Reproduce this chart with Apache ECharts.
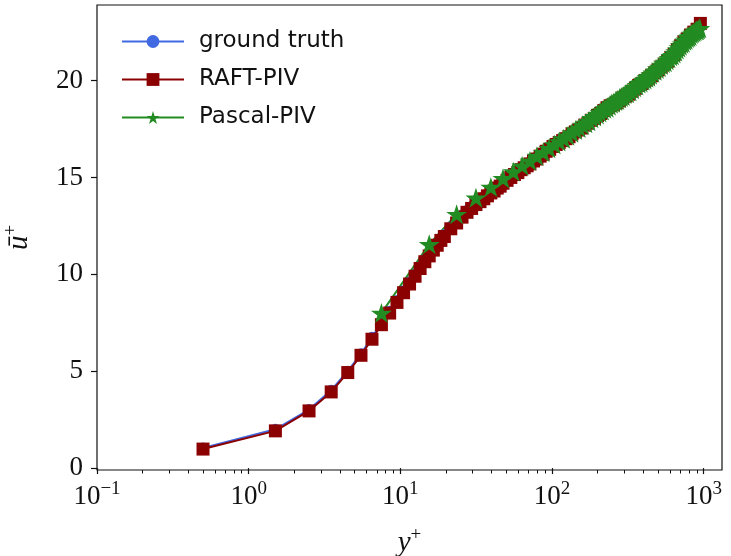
<!DOCTYPE html>
<html>
<head>
<meta charset="utf-8">
<script src="https://cdn.jsdelivr.net/npm/echarts@6/dist/echarts.min.js"></script>
<style>
html,body{margin:0;padding:0;background:#fff;}
#chart{width:731px;height:556px;}
</style>
</head>
<body>
<div id="chart"></div>
<script>
// y+ positions and mean velocity u+
var gtYplus = [0.5,1.5,2.5,3.5,4.5,5.5,6.5,7.5,8.5,9.5,10.5,11.5,12.5,13.5,14.5,15.5,16.5,17.5,18.5,19.5,
	21.5,23.5,25.5,27.5,29.5,32.5,35.5,39.5,43.5,47.5,52.5,57.5,63.5,69.5,76.5,83.5,91.5,100.5,110.5,121.5,
	133.5,146.5,161.5,177.5,195.5,214.5,235.5,258.5,284.5,312.5,343.5,377.5,414.5,455.5,500.5,550.5,605.5,665.5,731.5,803.5,883.5,950.5];
var gtU = [1.04,2.0,3.02,4.02,5.0,5.9,6.75,7.5,8.1,8.65,9.15,9.6,10.0,10.4,10.75,11.05,11.35,11.6,11.85,12.05,
	12.45,12.75,13.05,13.3,13.5,13.75,14.0,14.3,14.55,14.8,15.05,15.3,15.55,15.75,16.0,16.2,16.45,16.65,16.85,17.05,
	17.25,17.45,17.7,17.9,18.15,18.4,18.6,18.8,19.05,19.3,19.55,19.8,20.05,20.3,20.6,20.9,21.25,21.6,21.95,22.3,22.6,22.9];

var raftYplus = [0.5,1.5,2.5,3.5,4.5,5.5,6.5,7.5,8.5,9.5,10.5,11.5,12.5,13.5,14.5,15.5,16.5,17.5,18.5,19.5,
	21.5,23.5,25.5,27.5,29.5,31.5,33.5,35.5,37.5,39.5,41.5,43.5,45.5,47.5,50.5,53.5,56.5,59.5,62.5,65.5,
	68.5,71.5,75.5,79.5,83.5,87.5,91.5,96.5,101.5,106.5,111.5,117.5,123.5,129.5,135.5,142.5,149.5,156.5,164.5,172.5,
	181.5,190.5,199.5,209.5,219.5,230.5,241.5,253.5,265.5,278.5,292.5,306.5,321.5,337.5,354.5,372.5,391.5,410.5,431.5,452.5,
	475.5,499.5,524.5,550.5,578.5,607.5,638.5,670.5,704.5,740.5,778.5,818.5,860.5,904.5,950.5];
var raftU = [0.98,1.92,2.95,3.93,4.93,5.82,6.65,7.4,8.0,8.55,9.05,9.5,9.9,10.3,10.65,10.95,11.25,11.5,11.75,11.95,
	12.35,12.65,12.95,13.2,13.4,13.6,13.75,13.9,14.05,14.2,14.3,14.45,14.55,14.7,14.85,15.0,15.15,15.25,15.4,15.5,
	15.6,15.7,15.85,15.95,16.1,16.2,16.35,16.45,16.6,16.7,16.8,16.9,17.0,17.1,17.25,17.35,17.45,17.55,17.7,17.8,
	17.95,18.05,18.2,18.3,18.45,18.6,18.7,18.75,18.85,18.95,19.1,19.2,19.3,19.45,19.6,19.75,19.85,20.0,20.1,20.25,
	20.4,20.55,20.7,20.85,21.0,21.2,21.35,21.6,21.8,22.0,22.15,22.35,22.5,22.65,22.95];

var pascalYplus = [7.5,15.5,23.5,31.5,39.5,47.5,55.5,63.5,71.5,79.5,87.5,95.5,103.5,111.5,119.5,127.5,135.5,143.5,151.5,159.5,
	167.5,175.5,183.5,191.5,199.5,207.5,215.5,223.5,231.5,239.5,247.5,255.5,263.5,271.5,279.5,287.5,295.5,303.5,315.5,327.5,
	339.5,351.5,363.5,375.5,387.5,399.5,411.5,423.5,435.5,447.5,463.5,479.5,495.5,511.5,527.5,543.5,559.5,575.5,591.5,607.5,
	623.5,639.5,655.5,671.5,687.5,703.5,719.5,735.5,751.5,767.5,783.5,799.5,815.5,831.5,847.5,863.5,879.5,895.5,911.5,927.5,943.5];
var pascalU = [8.0,11.55,13.1,13.95,14.5,14.95,15.3,15.6,15.85,16.1,16.3,16.5,16.7,16.85,17.0,17.15,17.3,17.45,17.55,17.7,
	17.8,17.9,18.05,18.15,18.25,18.35,18.45,18.55,18.6,18.7,18.8,18.85,18.95,19.0,19.1,19.15,19.2,19.3,19.35,19.45,
	19.55,19.65,19.75,19.85,19.9,20.0,20.05,20.15,20.2,20.3,20.4,20.5,20.6,20.7,20.8,20.9,20.95,21.05,21.15,21.25,
	21.3,21.4,21.5,21.6,21.7,21.8,21.9,21.95,22.05,22.1,22.2,22.25,22.3,22.4,22.45,22.5,22.55,22.6,22.6,22.65,22.7];

var xMajor = [0.1,1,10,100,1000];
var xMinor = [0.2,0.3,0.4,0.5,0.6,0.7,0.8,0.9,2,3,4,5,6,7,8,9,20,30,40,50,60,70,80,90,200,300,400,500,600,700,800,900];
var yMajor = [0,5,10,15,20];

function zip(xs, ys){
	var out = [];
	for(var i = 0;i<xs.length;i++){
		out.push([xs[i], ys[i]]);
	}
	return out;
}

var starPath = 'path://M0,-1L0.2245,-0.309L0.951,-0.309L0.363,0.118L0.588,0.809L0,0.382L-0.588,0.809L-0.363,0.118L-0.951,-0.309L-0.2245,-0.309Z';
var serif = 'Liberation Serif';

var myChart = echarts.init(document.getElementById('chart'));
var option = {
	animation : false,
	backgroundColor : '#fff',
	grid : {
		left : 97,
		right : 9,
		top : 5,
		bottom : 86,
		outerBoundsMode : 'none',
		containLabel : false,
		show : true,
		borderColor : '#111',
		borderWidth : 1.2,
		backgroundColor : 'transparent'
	},
	legend : {
		orient : 'vertical',
		left : 116,
		top : 25,
		itemWidth : 62,
		itemHeight : 16,
		itemGap : 15,
		data : ['ground truth','RAFT-PIV','Pascal-PIV'],
		textStyle : {
			fontFamily : 'DejaVu Sans',
			fontSize : 23,
			color : '#111',
			padding : [0,0,0,10]
		}
	},
	xAxis : [{
		type : 'log',
		logBase : 10,
		min : 0.1,
		max : 1320,
		position : 'bottom',
		name : '{i|y}{s|+}',
		nameLocation : 'middle',
		nameGap : 56,
		nameTextStyle : {
			rich : {
				i : {fontFamily : serif, fontStyle : 'italic', fontSize : 29, color : '#111'},
				s : {fontFamily : serif, fontSize : 19, color : '#111', padding : [0,0,16,0]}
			}
		},
		axisLine : {show : false},
		splitLine : {show : false},
		axisTick : {
			show : true,
			length : 6,
			customValues : xMajor,
			lineStyle : {color : '#111', width : 1.2}
		},
		axisLabel : {
			customValues : xMajor,
			margin : 10,
			formatter : function(v){
				var e = Math.round(Math.log(v)/Math.LN10);
				return '{b|10}{s|' + (e < 0 ? '\u2212' + (-e) : e) + '}';
			},
			rich : {
				b : {fontFamily : serif, fontSize : 27, color : '#111'},
				s : {fontFamily : serif, fontSize : 19, color : '#111', padding : [0,0,14,0]}
			}
		}
	},{
		type : 'log',
		logBase : 10,
		min : 0.1,
		max : 1320,
		position : 'bottom',
		axisLine : {show : false},
		splitLine : {show : false},
		axisLabel : {show : false},
		axisTick : {
			show : true,
			length : 3.5,
			customValues : xMinor,
			lineStyle : {color : '#111', width : 1}
		}
	}],
	yAxis : {
		type : 'value',
		min : -0.1,
		max : 23.9,
		name : '{i|\u016B}{s|+}',
		nameLocation : 'middle',
		nameRotate : 90,
		nameGap : 60,
		nameTextStyle : {
			rich : {
				i : {fontFamily : serif, fontStyle : 'italic', fontSize : 29, color : '#111'},
				s : {fontFamily : serif, fontSize : 19, color : '#111', padding : [0,0,16,0]}
			}
		},
		axisLine : {show : false},
		splitLine : {show : false},
		axisTick : {
			show : true,
			length : 6,
			customValues : yMajor,
			lineStyle : {color : '#111', width : 1.2}
		},
		axisLabel : {
			customValues : yMajor,
			margin : 14,
			fontFamily : serif,
			fontSize : 27,
			color : '#111'
		}
	},
	series : [{
		name : 'ground truth',
		type : 'line',
		data : zip(gtYplus, gtU),
		symbol : 'circle',
		symbolSize : 11,
		color : '#4169E1',
		lineStyle : {width : 2}
	},{
		name : 'RAFT-PIV',
		type : 'line',
		data : zip(raftYplus, raftU),
		symbol : 'rect',
		symbolSize : 13,
		color : '#8B0000',
		lineStyle : {width : 2}
	},{
		name : 'Pascal-PIV',
		type : 'line',
		data : zip(pascalYplus, pascalU),
		symbol : starPath,
		symbolKeepAspect : true,
		symbolSize : 21,
		color : '#228B22',
		lineStyle : {width : 2}
	}]
};
myChart.setOption(option);
</script>
</body>
</html>
